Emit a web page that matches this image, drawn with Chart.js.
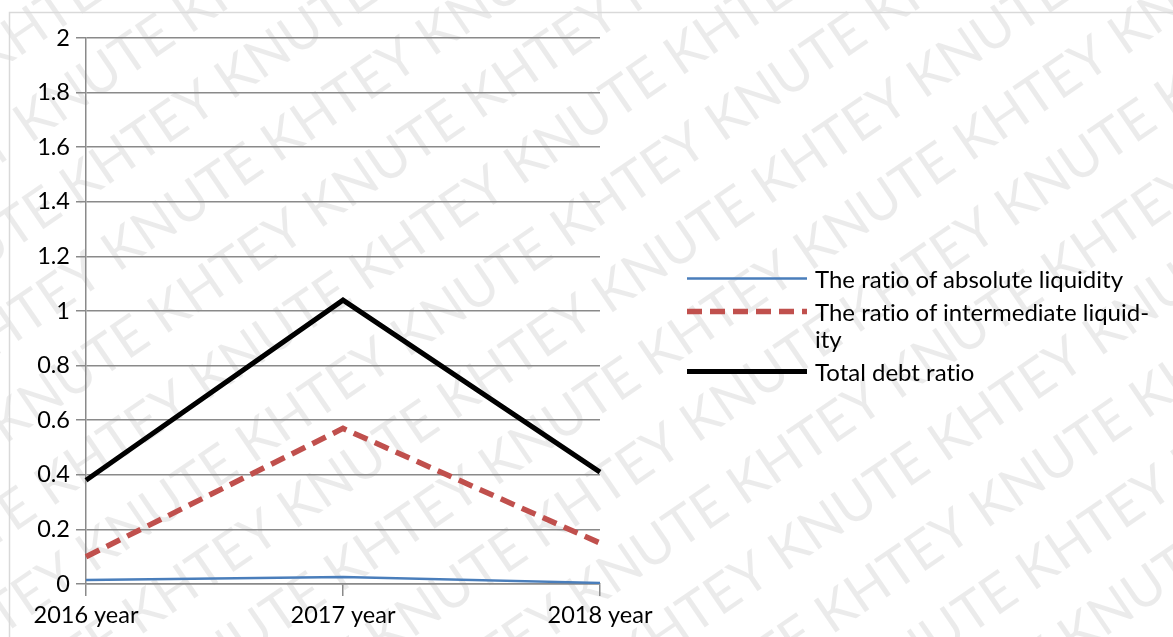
<!DOCTYPE html>
<html>
<head>
<meta charset="utf-8">
<script src="https://cdn.jsdelivr.net/npm/chart.js@4.4.1/dist/chart.umd.min.js"></script>
<style>
    body { margin: 0; background: #fff; font-family: Lato, sans-serif; }
    #wrap { position: relative; width: 1173px; height: 637px; overflow: hidden; }
    #legend { position: absolute; left: 687px; top: 265px; }
    .item { display: flex; align-items: flex-start; margin-bottom: 6px; }
    .item svg { flex: none; width: 120px; height: 27px; }
    .item span { width: 338px; padding-left: 8px; font-size: 24px; line-height: 27px; color: #000; hyphens: manual; font-variant-ligatures: none; }
</style>
</head>
<body>
<div id="wrap">
    <canvas id="chart" width="1173" height="637"></canvas>
    <div id="legend"></div>
</div>
<script>
const years = ['2016 year', '2017 year', '2018 year'];
const seriesNames = ['The ratio of absolute liquidity', 'The ratio of intermediate liquid\u00ADity', 'Total debt ratio'];
const absoluteLiquidity = [0.015, 0.026, 0.004];
const intermediateLiquidity = [0.10, 0.57, 0.15];
const totalDebt = [0.38, 1.04, 0.41];

const GRID = '#8a8a8a';

const styles = [
    { color: '#4a7ebb', width: 2.5, dash: [] },
    { color: '#c0504d', width: 5.5, dash: [15, 8] },
    { color: '#000000', width: 5, dash: [] },
];

// faint diagonal watermark + outer frame
const watermark = {
    id: 'watermark',
    beforeDraw(chart) {
        const ctx = chart.ctx;
        ctx.save();
        ctx.fillStyle = 'rgba(0,0,0,0.08)';
        ctx.font = '54px Lato, sans-serif';
        ctx.translate(0, 637);
        ctx.rotate(-0.6);
        const text = 'KHTEY KNUTE ';
        const w = ctx.measureText(text).width;
        for (let row = -12; row < 12; row++) {
            const y = row * 78;
            const shift = (row % 2) * (w / 2);
            for (let x = -1600; x < 1900; x += w) {
                ctx.fillText(text, x + shift, y);
            }
        }
        ctx.restore();

        ctx.save();
        ctx.strokeStyle = '#d9d9d9';
        ctx.lineWidth = 1.5;
        ctx.strokeRect(9.5, 12.5, 1200, 700);
        ctx.restore();
    }
};

const datasets = [absoluteLiquidity, intermediateLiquidity, totalDebt].map((d, i) => ({
    label: seriesNames[i],
    data: d,
    borderColor: styles[i].color,
    backgroundColor: styles[i].color,
    borderWidth: styles[i].width,
    borderDash: styles[i].dash,
    pointRadius: 0,
    tension: 0,
    fill: false,
}));

new Chart(document.getElementById('chart'), {
    type: 'line',
    data: { labels: years, datasets },
    options: {
        responsive: false,
        animation: false,
        events: [],
        layout: { padding: { top: 38, right: 573, bottom: 0, left: 0 } },
        plugins: {
            legend: { display: false },
            tooltip: { enabled: false },
        },
        scales: {
            x: {
                offset: false,
                afterFit: (s) => { s.height = 53; },
                grid: { drawOnChartArea: false, drawTicks: true, tickLength: 12, color: GRID, lineWidth: 1.5 },
                border: { display: true, color: GRID, width: 1.5 },
                ticks: { color: '#000', font: { family: 'Lato, sans-serif', size: 23.5 }, padding: 5, maxRotation: 0 },
            },
            y: {
                min: 0,
                max: 2,
                afterFit: (s) => { s.width = 86; },
                ticks: {
                    stepSize: 0.2,
                    color: '#000',
                    padding: 6,
                    font: { family: 'Lato, sans-serif', size: 23.5 },
                    callback: (v) => Math.round(v * 10) / 10,
                },
                grid: { color: GRID, lineWidth: 1.5, tickLength: 10 },
                border: { display: true, color: GRID, width: 1.5 },
            },
        },
    },
    plugins: [watermark],
});

// legend on the right
const legend = document.getElementById('legend');
seriesNames.forEach((name, i) => {
    const st = styles[i];
    const item = document.createElement('div');
    item.className = 'item';
    item.innerHTML = `<svg viewBox="0 0 120 27"><line x1="0" y1="13.5" x2="120" y2="13.5" stroke="${st.color}" stroke-width="${st.width}" stroke-dasharray="${st.dash.join(' ')}"/></svg><span>${name}</span>`;
    legend.appendChild(item);
});
</script>
</body>
</html>
